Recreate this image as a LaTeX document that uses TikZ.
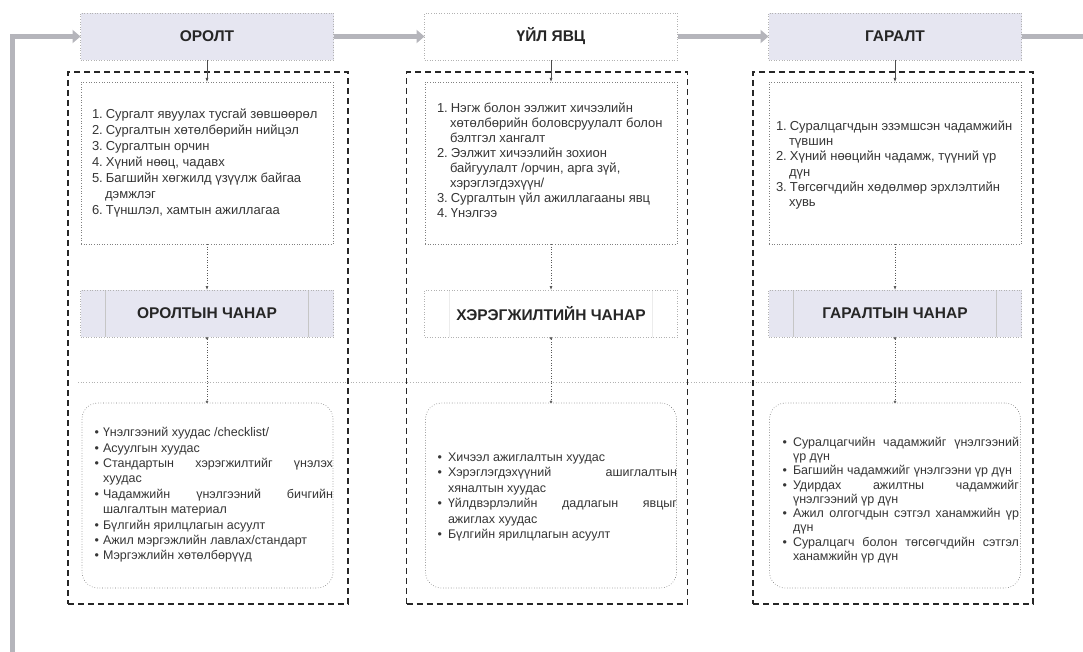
\documentclass[tikz,border=0pt]{standalone}
\usepackage{fontspec}
\setmainfont{Liberation Sans}
\usetikzlibrary{arrows.meta}
\definecolor{lav}{HTML}{E6E6F1}
\definecolor{txt}{HTML}{363636}
\definecolor{bigg}{HTML}{B5B5BB}
\tolerance=10000 \pretolerance=10000 \hyphenpenalty=10000 \exhyphenpenalty=10000 \hbadness=10000
\newenvironment{numlst}{\begin{list}{\arabic{enumi}.}{\usecounter{enumi}\setlength\leftmargin{13pt}\setlength\labelwidth{10pt}\setlength\labelsep{3pt}\setlength\itemsep{0pt}\setlength\parsep{0pt}\setlength\topsep{0pt}\setlength\partopsep{0pt}\setlength\itemindent{0pt}}}{\end{list}}
\newenvironment{bullst}[1]{\begin{list}{\textbullet}{\setlength\leftmargin{#1}\setlength\labelwidth{6pt}\setlength\labelsep{\dimexpr#1-6pt\relax}\setlength\itemsep{0pt}\setlength\parsep{0pt}\setlength\topsep{0pt}\setlength\partopsep{0pt}\setlength\itemindent{0pt}}}{\end{list}}
\begin{document}
\begin{tikzpicture}[x=1pt,y=-1pt,
  every node/.style={inner sep=0pt, outer sep=0pt},
  titlebox/.style={draw=gray!60, dotted, line width=0.6pt, minimum width=253pt, minimum height=47pt,
    font=\fontsize{15.5}{18}\selectfont\bfseries, text=black!85},
  qualbox/.style={titlebox, path picture={\draw[solid, #1, line width=0.6pt]
      ([xshift=25pt]path picture bounding box.north west) -- ([xshift=25pt]path picture bounding box.south west)
      ([xshift=-25pt]path picture bounding box.north east) -- ([xshift=-25pt]path picture bounding box.south east);}},
  qualbox/.default={gray!45},
  inbox/.style={draw=black!50, dotted, line width=0.6pt, minimum width=252pt, minimum height=162pt},
  roundbox/.style={draw=black!55, dotted, line width=0.6pt, rounded corners=16pt, minimum width=251pt, minimum height=185pt},
  frame/.style={draw=black!85, line width=1.6pt, dash pattern=on 6pt off 4pt},
  listtext/.style={anchor=west, text=txt},
  bigarrow/.style={draw=bigg, line width=5pt, -{Triangle[length=8pt,width=13pt]}},
  bigline/.style={draw=bigg, line width=5pt},
  smallarr/.style={draw=black!70, line width=0.6pt, -{Latex[length=4pt,width=3pt]}},
  dotarr/.style={draw=black!65, dotted, line width=0.6pt, -{Latex[length=4pt,width=3pt]}},
  dotarrb/.style={draw=black!65, dotted, line width=0.6pt, {Circle[length=2.5pt]}-{Circle[length=2.5pt]}},
  hline/.style={draw=gray!60, dotted, line width=0.7pt}
]
\useasboundingbox (0,0) rectangle (1083,652);

% horizontal dotted guide line
\coordinate (hl) at (78,382);
\coordinate (hr) at (1022,382);
\draw[hline] (hl) -- (hr);

% dashed frames
\node[frame, minimum width=280pt, minimum height=532pt] (f1) at (208,338) {};
\node[frame, minimum width=281pt, minimum height=532pt] (f2) at (547,338) {};
\node[frame, minimum width=280pt, minimum height=532pt] (f3) at (893,338) {};

% title boxes
\node[titlebox, fill=lav] (orolt) at (207,36.5) {ОРОЛТ};
\node[titlebox, fill=white] (uil) at (551,36.5) {ҮЙЛ ЯВЦ};
\node[titlebox, fill=lav] (garalt) at (895,36.5) {ГАРАЛТ};

% inner boxes
\node[inbox, fill=white] (b1) at (207,163) {};
\node[inbox, fill=white] (b2) at (551,163) {};
\node[inbox, fill=white] (b3) at (895,163) {};

% quality boxes
\node[qualbox, fill=lav] (q1) at (207,313.5) {ОРОЛТЫН ЧАНАР};
\node[qualbox={gray!15}, fill=white] (q2) at (551,313.5) {ХЭРЭГЖИЛТИЙН ЧАНАР};
\node[qualbox, fill=lav] (q3) at (895,313.5) {ГАРАЛТЫН ЧАНАР};

% rounded boxes
\node[roundbox, fill=white] (r1) at (207.5,495.5) {};
\node[roundbox, fill=white] (r2) at (551,495.5) {};
\node[roundbox, fill=white] (r3) at (895,495.5) {};

% top texts
\node[listtext] (t1) at (92,163) {\begin{minipage}{230pt}\fontsize{13}{16}\selectfont\raggedright
\begin{numlst}
\item Сургалт явуулах тусгай зөвшөөрөл
\item Сургалтын хөтөлбөрийн нийцэл
\item Сургалтын орчин
\item Хүний нөөц, чадавх
\item Багшийн хөгжилд үзүүлж байгаа\newline дэмжлэг
\item Түншлэл, хамтын ажиллагаа
\end{numlst}\end{minipage}};
\node[listtext] (t2) at (437,160) {\begin{minipage}{230pt}\fontsize{13}{15}\selectfont\raggedright
\begin{numlst}
\item Нэгж болон ээлжит хичээлийн\newline хөтөлбөрийн боловсруулалт болон\newline бэлтгэл хангалт
\item Ээлжит хичээлийн зохион\newline байгуулалт /орчин, арга зүй,\newline хэрэглэгдэхүүн/
\item Сургалтын үйл ажиллагааны явц
\item Үнэлгээ
\end{numlst}\end{minipage}};
\node[listtext] (t3) at (776,165) {\begin{minipage}{240pt}\fontsize{13}{15.3}\selectfont\raggedright
\begin{numlst}
\item Суралцагчдын эзэмшсэн чадамжийн\newline түвшин
\item Хүний нөөцийн чадамж, түүний үр\newline дүн
\item Төгсөгчдийн хөдөлмөр эрхлэлтийн\newline хувь
\end{numlst}\end{minipage}};

% bottom texts
\node[listtext] (u1) at (93,495) {\begin{minipage}{240pt}\fontsize{12.5}{15.4}\selectfont
\begin{bullst}{10pt}
\item Үнэлгээний хуудас /checklist/
\item Асуулгын хуудас
\item Стандартын хэрэгжилтийг үнэлэх\linebreak хуудас
\item Чадамжийн үнэлгээний бичгийн\linebreak шалгалтын материал
\item Бүлгийн ярилцлагын асуулт
\item Ажил мэргэжлийн лавлах/стандарт
\item Мэргэжлийн хөтөлбөрүүд
\end{bullst}\end{minipage}};
\node[listtext] (u2) at (436,497) {\begin{minipage}{241pt}\fontsize{12.5}{15.4}\selectfont
\begin{bullst}{12pt}
\item Хичээл ажиглалтын хуудас
\item Хэрэглэгдэхүүний ашиглалтын\linebreak хяналтын хуудас
\item Үйлдвэрлэлийн дадлагын явцыг\linebreak ажиглах хуудас
\item Бүлгийн ярилцлагын асуулт
\end{bullst}\end{minipage}};
\node[listtext] (u3) at (781,500) {\begin{minipage}{238pt}\fontsize{12.5}{14.3}\selectfont
\begin{bullst}{12pt}
\item Суралцагчийн чадамжийг үнэлгээний\linebreak үр дүн
\item Багшийн чадамжийг үнэлгээни үр дүн
\item Удирдах ажилтны чадамжийг\linebreak үнэлгээний үр дүн
\item Ажил олгогчдын сэтгэл ханамжийн үр\linebreak дүн
\item Суралцагч болон төгсөгчдийн сэтгэл\linebreak ханамжийн үр дүн
\end{bullst}\end{minipage}};

% big gray arrows
\coordinate (lb) at (12,652);
\coordinate (rr) at (1083,36.5);
\draw[bigarrow] (lb) |- (orolt.west);
\draw[bigarrow] (orolt.east) -- (uil.west);
\draw[bigarrow] (uil.east) -- (garalt.west);
\draw[bigline] (garalt.east) -- (rr);

% small connectors
\draw[smallarr] (orolt.south) -- (b1.north);
\draw[smallarr] (uil.south) -- (b2.north);
\draw[smallarr] (garalt.south) -- (b3.north);
\draw[dotarr] (b1.south) -- (q1.north);
\draw[dotarr] (b2.south) -- (q2.north);
\draw[dotarr] (b3.south) -- (q3.north);
\draw[dotarrb] (q1.south) -- (r1.north -| q1.south);
\draw[dotarrb] (q2.south) -- (r2.north);
\draw[dotarrb] (q3.south) -- (r3.north);
\end{tikzpicture}
\end{document}
